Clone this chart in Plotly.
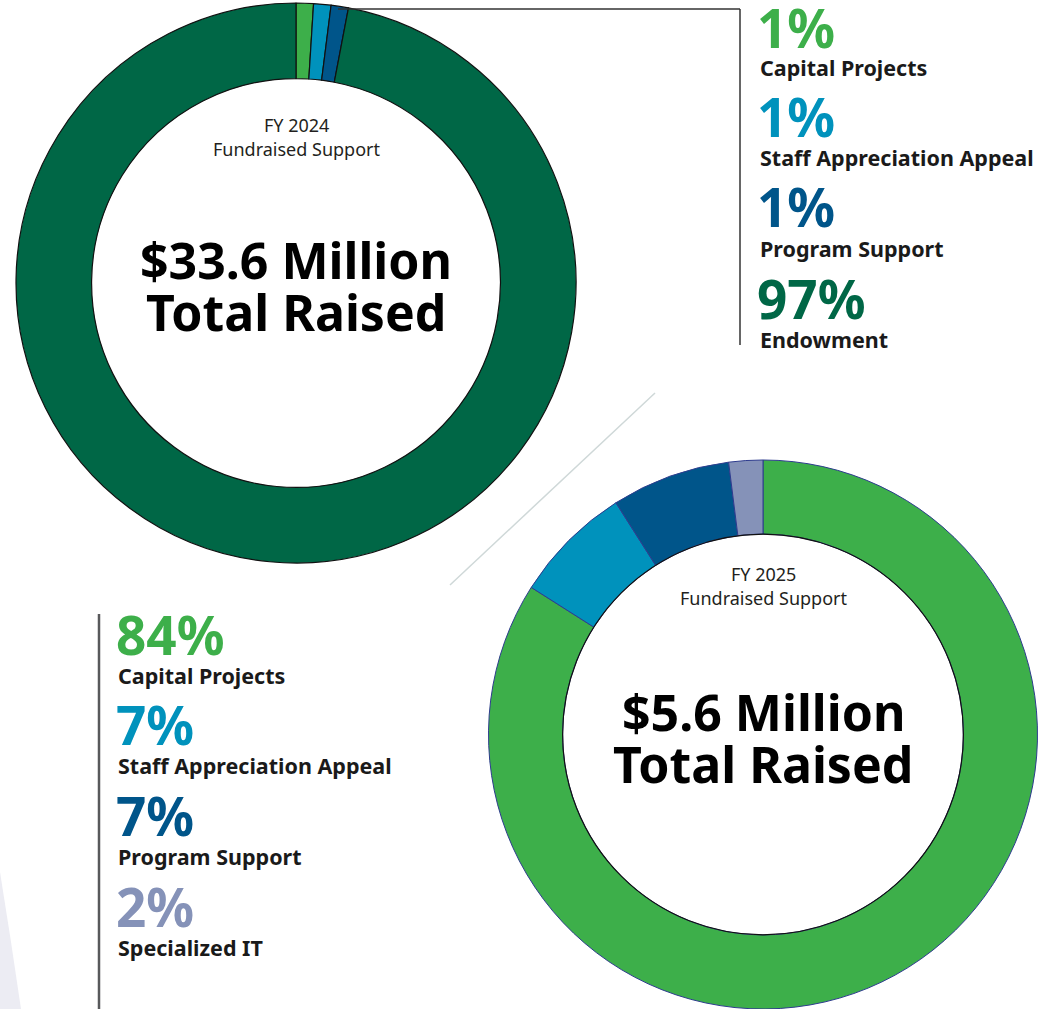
"""Two donut charts: FY 2024 vs FY 2025 fundraised support."""

import plotly.graph_objects as go

W, H = 1059, 1009

# --- data -------------------------------------------------------------
fy24_labels = ["Capital Projects", "Staff Appreciation Appeal", "Program Support", "Endowment"]
fy24_values = [1, 1, 1, 97]
fy24_colors = ["#3daf4a", "#0092bc", "#00558a", "#006746"]

fy25_labels = ["Capital Projects", "Staff Appreciation Appeal", "Program Support", "Specialized IT"]
fy25_values = [84, 7, 7, 2]
fy25_colors = ["#3daf4a", "#0092bc", "#00558a", "#8592b8"]

fy24_total = "$33.6 Million"
fy25_total = "$5.6 Million"


def px(x):
    return x / W


def py(y):
    return 1 - y / H


FONT = "Noto Sans"
INK = "#1a1a1a"

fig = go.Figure()

fig.add_trace(
    go.Pie(
        labels=fy24_labels,
        values=fy24_values,
        hole=0.73,
        sort=False,
        direction="clockwise",
        rotation=0,
        textinfo="none",
        marker=dict(colors=fy24_colors, line=dict(color="#111111", width=1.2)),
        domain=dict(x=[px(16), px(576)], y=[py(563), py(3)]),
        showlegend=False,
    )
)

fig.add_trace(
    go.Pie(
        labels=fy25_labels,
        values=fy25_values,
        hole=0.73,
        sort=False,
        direction="clockwise",
        rotation=0,
        textinfo="none",
        marker=dict(colors=fy25_colors, line=dict(color="#2e3c8e", width=1)),
        domain=dict(x=[px(486), px(1040)], y=[0, py(460)]),
        showlegend=False,
    )
)

shapes = [
    # connector from top donut to legend
    dict(type="line", x0=px(338), y0=py(9), x1=px(740), y1=py(9), line=dict(color="#333333", width=1.5)),
    dict(type="line", x0=px(740), y0=py(9), x1=px(740), y1=py(345), line=dict(color="#333333", width=1.5)),
    # divider between the two charts
    dict(type="line", x0=px(450), y0=py(585), x1=px(655), y1=py(393), line=dict(color="#cfd8d8", width=1.5)),
    # bottom legend rule
    dict(type="line", x0=px(99), y0=py(614), x1=px(99), y1=py(1009), line=dict(color="#58595b", width=2.5)),
    # faint background wedge, bottom-left
    dict(
        type="path",
        path=f"M 0,{py(872)} Q {px(11)},{py(940)} {px(21)},{py(1009)} L 0,{py(1009)} Z",
        fillcolor="#ececf3",
        line=dict(width=0),
        layer="below",
    ),
]

# inner black ring of the FY 2025 donut
cx25, cy25 = 763, 734.5
r_in = 274.5 * 0.73
shapes.append(
    dict(
        type="circle",
        x0=px(cx25 - r_in), x1=px(cx25 + r_in),
        y0=py(cy25 + r_in), y1=py(cy25 - r_in),
        line=dict(color="#111111", width=1.2),
        layer="above",
    )
)

annotations = []


def add_text(x, y, text, size, color=INK, bold=False, xanchor="center"):
    annotations.append(
        dict(
            x=px(x), y=py(y), xref="paper", yref="paper",
            text=f"<b>{text}</b>" if bold else text,
            showarrow=False, xanchor=xanchor, yanchor="middle",
            font=dict(family=FONT, size=size, color=color),
        )
    )


# centre texts
add_text(296, 125, "FY 2024", 18, "#231f20")
add_text(296, 149, "Fundraised Support", 18, "#231f20")
add_text(296, 260, fy24_total, 50, "#000000", bold=True)
add_text(296, 312, "Total Raised", 50, "#000000", bold=True)

add_text(763, 574, "FY 2025", 18, "#231f20")
add_text(763, 598, "Fundraised Support", 18, "#231f20")
add_text(763, 712, fy25_total, 50, "#000000", bold=True)
add_text(763, 764, "Total Raised", 50, "#000000", bold=True)

# legends
top_rows = [27, 117, 207, 298]
for lab, val, col, yc in zip(fy24_labels, fy24_values, fy24_colors, top_rows):
    add_text(755, yc, f"{val}%", 53, col, bold=True, xanchor="left")
    add_text(758, yc + 41, lab, 21.5, INK, bold=True, xanchor="left")

bot_rows = [634, 724, 815, 906]
for lab, val, col, yc in zip(fy25_labels, fy25_values, fy25_colors, bot_rows):
    add_text(114, yc, f"{val}%", 53, col, bold=True, xanchor="left")
    add_text(116, yc + 41, lab, 21.5, INK, bold=True, xanchor="left")

fig.update_layout(
    width=W,
    height=H,
    margin=dict(l=0, r=0, t=0, b=0),
    paper_bgcolor="white",
    plot_bgcolor="white",
    shapes=shapes,
    annotations=annotations,
    showlegend=False,
)

fig.write_html(
    "out.html",
    config={"displayModeBar": False},
    post_script="document.body.style.margin='0px';",
)
